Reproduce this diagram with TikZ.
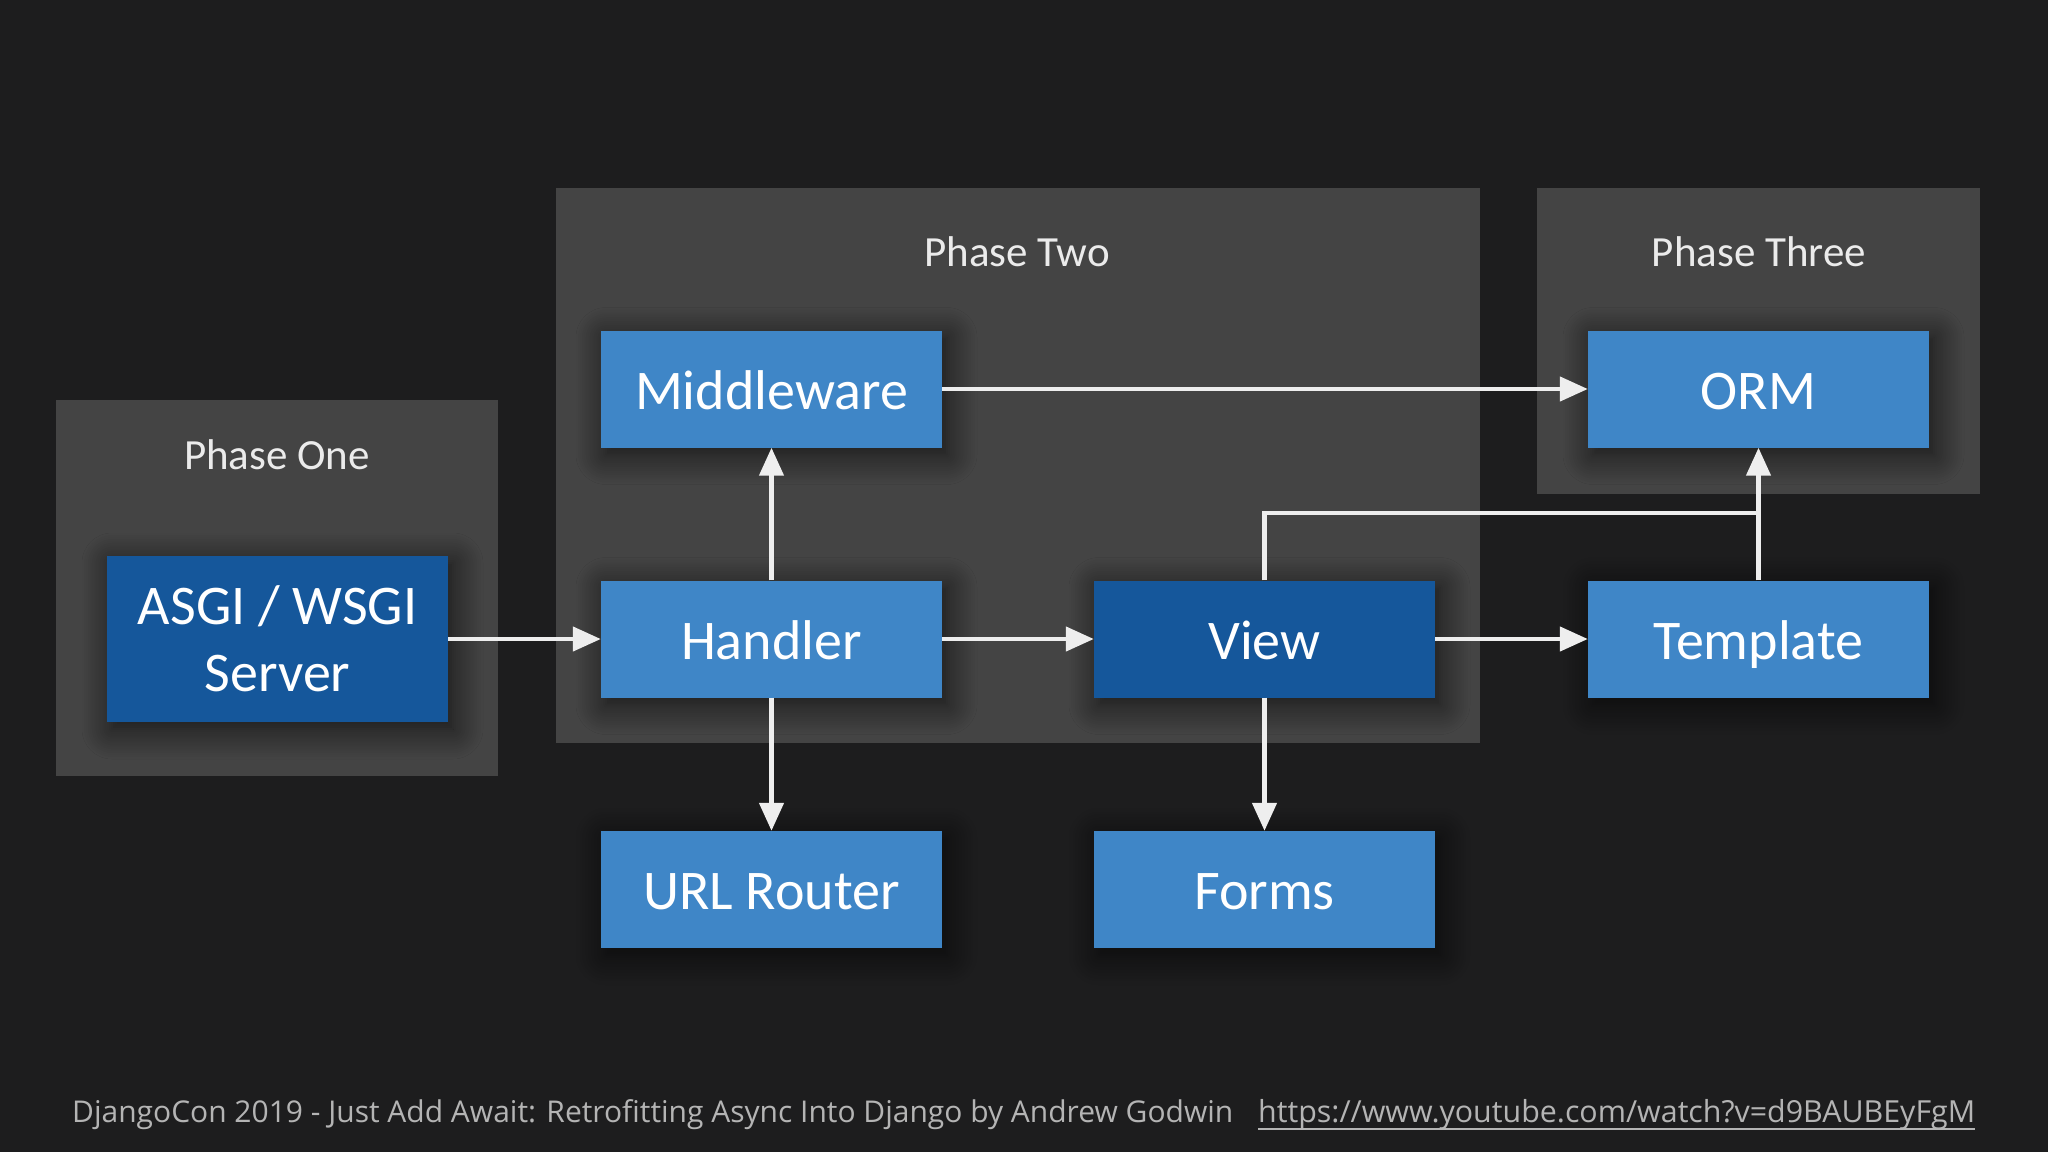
\documentclass[tikz,border=0pt]{standalone}
\usepackage{fontspec}
\setmainfont{Carlito}
\newfontfamily\footfont{Open Sans}
\usetikzlibrary{arrows.meta,shadows.blur}
\definecolor{bg}{HTML}{1D1D1E}
\definecolor{panel}{HTML}{444444}
\definecolor{lblue}{HTML}{3F86C7}
\definecolor{dblue}{HTML}{15579B}
\definecolor{arr}{HTML}{EEEEEE}
\definecolor{foot}{HTML}{B4B4B4}
\tikzset{
  panelbox/.style={fill=panel, draw=none, inner sep=0pt, anchor=north west},
  phaselabel/.style={text=white!92!black, font=\fontsize{43}{50}\selectfont, inner sep=0pt},
  boxbase/.style={fill=lblue, draw=none, text=white, minimum width=341pt, minimum height=117pt,
    inner sep=0pt, align=center, font=\fontsize{56}{67}\selectfont,
    blur shadow={shadow xshift=5pt, shadow yshift=-7pt, shadow blur radius=30pt, shadow opacity=70, shadow blur steps=16}},
  stagebox/.style={boxbase, text height=40pt, text depth=0pt},
  darkbox/.style={stagebox, fill=dblue},
  asgibox/.style={boxbase, fill=dblue},
  flow/.style={draw=arr, line width=4.5pt, -{Triangle[length=28pt,width=24pt]}},
  flowline/.style={draw=arr, line width=4.5pt},
  footstyle/.style={text=foot, inner sep=0pt, anchor=base west, font=\footfont\fontsize{31}{36}\selectfont}
}
\begin{document}
\begin{tikzpicture}[x=1pt,y=-1pt]
\fill[bg] (0,0) rectangle (2048,1152);
\useasboundingbox (0,0) rectangle (2048,1152);
% panels
\node[panelbox, minimum width=442pt, minimum height=376pt] (p1) at (56,400) {};
\node[panelbox, minimum width=924pt, minimum height=555pt] (p2) at (556,188) {};
\node[panelbox, minimum width=443pt, minimum height=306pt] (p3) at (1537,188) {};
\node[phaselabel] (l1) at (277,455) {Phase One};
\node[phaselabel] (l2) at (1017,252) {Phase Two};
\node[phaselabel] (l3) at (1759,252) {Phase Three};
% boxes
\node[asgibox, minimum height=166pt] (asgi) at (277.5,639) {ASGI / WSGI\\Server};
\node[stagebox] (mid) at (771.5,389) {Middleware};
\node[stagebox] (hand) at (771.5,639) {Handler};
\node[stagebox] (url) at (771.5,889.5) {URL Router};
\node[darkbox] (view) at (1264.5,639) {View};
\node[stagebox] (forms) at (1264.5,889.5) {Forms};
\node[stagebox] (orm) at (1758.5,389) {ORM};
\node[stagebox] (tmpl) at (1758.5,639) {Template};
% connectors
\coordinate (join) at (1758.5,513);
\draw[flow] (asgi.east) -- (hand.west);
\draw[flow] (hand.north) -- (mid.south);
\draw[flow] (hand.south) -- (url.north);
\draw[flow] (hand.east) -- (view.west);
\draw[flow] (view.east) -- (tmpl.west);
\draw[flow] (view.south) -- (forms.north);
\draw[flow] (mid.east) -- (orm.west);
\draw[flow] (tmpl.north) -- (orm.south);
\draw[flowline] (view.north) |- (join);
% footer
\node[footstyle] (f1) at (72,1122) {\resizebox{1161pt}{!}{DjangoCon 2019 - Just Add Await: Retrofitting Async Into Django by Andrew Godwin}};
\node[footstyle] (f2) at (1258,1122) {\resizebox{717pt}{!}{https://www.youtube.com/watch?v=d9BAUBEyFgM}};
\draw[foot, line width=2.5pt] ([yshift=-7pt]f2.base west) -- ([yshift=-7pt]f2.base east);
\end{tikzpicture}
\end{document}
